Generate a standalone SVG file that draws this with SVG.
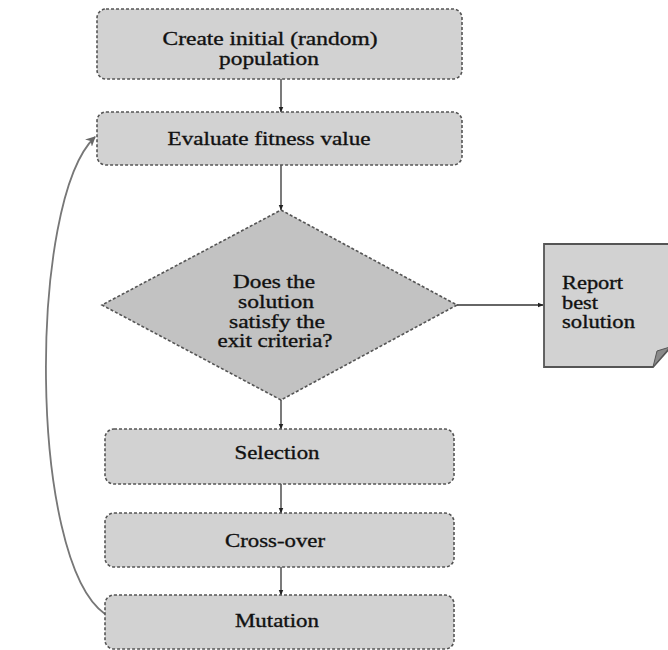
<svg xmlns="http://www.w3.org/2000/svg" width="668" height="650" viewBox="0 0 668 650">
<style>
.box{fill:#d2d2d2;stroke:#555;stroke-width:1.6;stroke-dasharray:3 2}
.dia{fill:#c2c2c2;stroke:#555;stroke-width:1.6;stroke-dasharray:3 2}
.t{font-family:"Liberation Serif","Times New Roman",serif;font-size:19.5px;fill:#111;stroke:#111;stroke-width:0.35;text-anchor:middle}
.tl{font-family:"Liberation Serif","Times New Roman",serif;font-size:19px;fill:#111;stroke:#111;stroke-width:0.35}
.c{fill:none;stroke:#333;stroke-width:1.3}
</style>
<defs>
<marker id="ah" viewBox="0 0 10 10" refX="9" refY="5" markerWidth="6" markerHeight="6" orient="auto" markerUnits="userSpaceOnUse">
<path d="M0,1 L10,5 L0,9 Z" fill="#222"/>
</marker>
<marker id="ahg" viewBox="0 0 10 10" refX="9" refY="5" markerWidth="10" markerHeight="10" orient="auto" markerUnits="userSpaceOnUse">
<path d="M0,0 L10,5 L0,10 L3,5 Z" fill="#666"/>
</marker>
</defs>
<g id="connectors">
<line class="c" x1="281" y1="79" x2="281" y2="112" marker-end="url(#ah)"/>
<line class="c" x1="281" y1="165" x2="281" y2="210" marker-end="url(#ah)"/>
<line class="c" x1="457" y1="305" x2="543" y2="305" marker-end="url(#ah)"/>
<line class="c" x1="281" y1="400" x2="281" y2="429" marker-end="url(#ah)"/>
<line class="c" x1="281" y1="484" x2="281" y2="513" marker-end="url(#ah)"/>
<line class="c" x1="281" y1="567" x2="281" y2="595" marker-end="url(#ah)"/>
<path d="M105,614 C28,560 28,200 95,137" fill="none" stroke="#777" stroke-width="1.8" marker-end="url(#ahg)"/>
</g>
<g id="create">
<rect class="box" x="97" y="9" width="365" height="70" rx="9"/>
<text class="t" x="270" y="45" textLength="215" lengthAdjust="spacingAndGlyphs">Create initial (random)</text>
<text class="t" x="269" y="65" textLength="100" lengthAdjust="spacingAndGlyphs">population</text>
</g>
<g id="evaluate">
<rect class="box" x="97" y="112" width="365" height="53" rx="9"/>
<text class="t" x="269" y="145" textLength="203" lengthAdjust="spacingAndGlyphs">Evaluate fitness value</text>
</g>
<g id="decision">
<polygon class="dia" points="281,210 457,305 281,400 102,305"/>
<text class="t" x="274" y="288" textLength="82" lengthAdjust="spacingAndGlyphs">Does the</text>
<text class="t" x="276" y="308" textLength="76" lengthAdjust="spacingAndGlyphs">solution</text>
<text class="t" x="277" y="328" textLength="96" lengthAdjust="spacingAndGlyphs">satisfy the</text>
<text class="t" x="275" y="347" textLength="115" lengthAdjust="spacingAndGlyphs">exit criteria?</text>
</g>
<g id="report">
<path d="M544,244 H670 V348 L653,367 H544 Z" fill="#d2d2d2" stroke="#555" stroke-width="1.8"/>
<path d="M653,367 L657,351 L670,347 Z" fill="#8a8a8a" stroke="#555" stroke-width="1"/>
<text class="tl" x="562" y="289" textLength="61" lengthAdjust="spacingAndGlyphs">Report</text>
<text class="tl" x="562" y="308.5" textLength="36" lengthAdjust="spacingAndGlyphs">best</text>
<text class="tl" x="562" y="328" textLength="73" lengthAdjust="spacingAndGlyphs">solution</text>
</g>
<g id="selection">
<rect class="box" x="105" y="429" width="349" height="55" rx="9"/>
<text class="t" x="277" y="459" textLength="85" lengthAdjust="spacingAndGlyphs">Selection</text>
</g>
<g id="crossover">
<rect class="box" x="105" y="513" width="349" height="54" rx="9"/>
<text class="t" x="275" y="547" textLength="100" lengthAdjust="spacingAndGlyphs">Cross-over</text>
</g>
<g id="mutation">
<rect class="box" x="105" y="595" width="349" height="54" rx="9"/>
<text class="t" x="277" y="627" textLength="84" lengthAdjust="spacingAndGlyphs">Mutation</text>
</g>
</svg>
